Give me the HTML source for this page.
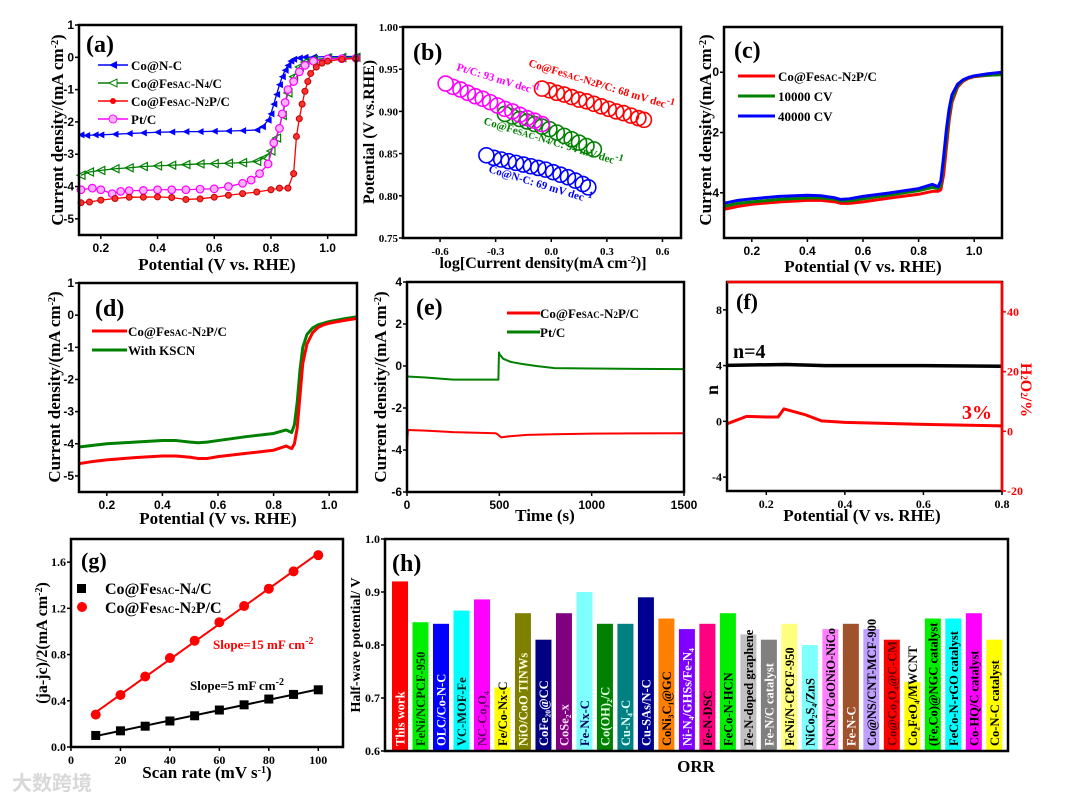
<!DOCTYPE html>
<html><head><meta charset="utf-8">
<style>
html,body{margin:0;padding:0;background:#fff;}
svg{display:block;}
text{font-family:"Liberation Serif","Noto Serif CJK SC",serif;font-weight:bold;}
.sans{font-family:"Liberation Sans",sans-serif;}
</style></head>
<body>
<svg id="fig" width="1080" height="803" viewBox="0 0 1080 803" xmlns="http://www.w3.org/2000/svg">
<rect width="1080" height="803" fill="#fff"/>
</svg>
<script>
// ---------- data ----------
// (a) LSV
const aBlueX=[0.13,0.15,0.18,0.2,0.25,0.3,0.35,0.4,0.45,0.5,0.55,0.6,0.65,0.7,0.75,0.77,0.79,0.8,0.81,0.82,0.83,0.84,0.85,0.86,0.87,0.88,0.9,0.92,0.95,1.0,1.05,1.1];
const aBlueY=[-2.4,-2.42,-2.4,-2.4,-2.38,-2.36,-2.34,-2.32,-2.31,-2.3,-2.3,-2.29,-2.28,-2.27,-2.25,-2.15,-1.95,-1.75,-1.45,-1.15,-0.85,-0.6,-0.4,-0.25,-0.12,-0.06,-0.02,0,0.01,0.02,0.02,0.03];
const aGreenX=[0.13,0.16,0.2,0.25,0.3,0.35,0.4,0.45,0.5,0.55,0.6,0.65,0.7,0.75,0.78,0.8,0.82,0.84,0.86,0.88,0.9,0.92,0.95,1.0,1.05,1.1];
const aGreenY=[-3.65,-3.55,-3.5,-3.45,-3.42,-3.38,-3.36,-3.34,-3.32,-3.3,-3.29,-3.28,-3.26,-3.22,-3.1,-2.9,-2.5,-1.8,-1.1,-0.6,-0.3,-0.15,-0.07,-0.03,-0.01,0];
const aRedX=[0.13,0.16,0.2,0.25,0.3,0.35,0.4,0.45,0.5,0.55,0.6,0.65,0.7,0.75,0.8,0.83,0.86,0.88,0.89,0.9,0.91,0.92,0.93,0.94,0.96,0.98,1.0,1.05,1.1];
const aRedY=[-4.5,-4.48,-4.42,-4.37,-4.33,-4.33,-4.32,-4.34,-4.4,-4.38,-4.33,-4.27,-4.22,-4.17,-4.1,-4.05,-4.05,-3.6,-2.45,-1.9,-1.45,-1.05,-0.75,-0.5,-0.3,-0.18,-0.12,-0.06,-0.04];
const aPtX=[0.13,0.17,0.2,0.24,0.27,0.3,0.35,0.4,0.45,0.5,0.55,0.6,0.65,0.7,0.73,0.76,0.79,0.81,0.83,0.84,0.85,0.86,0.88,0.9,0.92,0.95,1.0,1.05,1.1];
const aPtY=[-4.1,-4.05,-4.1,-4.22,-4.15,-4.13,-4.12,-4.1,-4.1,-4.1,-4.08,-4.07,-4.0,-3.9,-3.8,-3.6,-3.3,-2.65,-2.2,-1.75,-1.4,-1.0,-0.75,-0.45,-0.25,-0.12,-0.05,-0.04,-0.03];
const aXTicks=[0.2,0.4,0.6,0.8,1.0];
const aYTicks=[1,0,-1,-2,-3,-4,-5];
// (b) Tafel
const bPtX=[-0.57,-0.53,-0.49,-0.45,-0.41,-0.37,-0.33,-0.29,-0.25,-0.21,-0.17,-0.13,-0.09,-0.05];
const bPtY=[0.933,0.929,0.926,0.922,0.918,0.915,0.911,0.907,0.903,0.9,0.896,0.892,0.889,0.885];
const bGreenX=[-0.25,-0.21,-0.17,-0.13,-0.09,-0.05,-0.01,0.03,0.07,0.11,0.15,0.19,0.23];
const bGreenY=[0.897,0.894,0.891,0.888,0.885,0.882,0.879,0.875,0.871,0.867,0.863,0.859,0.855];
const bBlueX=[-0.35,-0.31,-0.27,-0.23,-0.19,-0.15,-0.11,-0.07,-0.03,0.01,0.05,0.09,0.13,0.17,0.2];
const bBlueY=[0.848,0.845,0.843,0.841,0.839,0.837,0.835,0.833,0.831,0.828,0.825,0.822,0.818,0.814,0.81];
const bRedX=[-0.05,-0.01,0.03,0.07,0.11,0.15,0.19,0.23,0.27,0.31,0.35,0.39,0.43,0.47,0.5];
const bRedY=[0.927,0.925,0.922,0.92,0.917,0.914,0.912,0.909,0.906,0.903,0.9,0.898,0.895,0.892,0.89];
const bXTicks=[-0.6,-0.3,0.0,0.3,0.6];
const bYTicks=[1.00,0.95,0.90,0.85,0.80,0.75];
// (c) stability
const cX=[0.1,0.15,0.2,0.3,0.4,0.45,0.5,0.52,0.55,0.6,0.7,0.8,0.85,0.87,0.88,0.89,0.9,0.91,0.92,0.94,0.96,0.98,1.0,1.05,1.1];
const cRed=[-4.55,-4.45,-4.38,-4.3,-4.25,-4.25,-4.3,-4.35,-4.35,-4.3,-4.17,-4.05,-3.95,-3.95,-3.9,-3.4,-2.5,-1.6,-1.0,-0.5,-0.3,-0.2,-0.15,-0.1,-0.07];
const cGreen=[-4.45,-4.35,-4.3,-4.22,-4.17,-4.17,-4.22,-4.27,-4.27,-4.2,-4.07,-3.93,-3.82,-3.86,-3.75,-3.0,-2.2,-1.4,-0.9,-0.45,-0.27,-0.18,-0.13,-0.1,-0.08];
const cBlue=[-4.35,-4.25,-4.2,-4.12,-4.08,-4.1,-4.17,-4.22,-4.2,-4.12,-4.0,-3.86,-3.72,-3.8,-3.6,-2.8,-1.9,-1.2,-0.75,-0.4,-0.25,-0.17,-0.12,-0.05,0.0];
const cXTicks=[0.2,0.4,0.6,0.8,1.0];
const cYTicks=[0,-2,-4];
// (d) KSCN
const dX=[0.1,0.15,0.2,0.3,0.4,0.45,0.5,0.53,0.56,0.6,0.7,0.8,0.845,0.865,0.875,0.885,0.895,0.905,0.92,0.94,0.96,0.98,1.0,1.05,1.1];
const dGreen=[-4.1,-4.05,-4.0,-3.95,-3.9,-3.9,-3.95,-3.97,-3.95,-3.9,-3.78,-3.68,-3.57,-3.65,-3.4,-2.7,-1.7,-1.0,-0.6,-0.4,-0.3,-0.25,-0.2,-0.12,-0.05];
const dRed=[-4.62,-4.55,-4.5,-4.43,-4.38,-4.38,-4.42,-4.46,-4.46,-4.4,-4.3,-4.2,-4.07,-4.15,-4.0,-3.5,-2.5,-1.5,-0.9,-0.55,-0.38,-0.3,-0.25,-0.17,-0.1];
const dXTicks=[0.2,0.4,0.6,0.8,1.0];
const dYTicks=[1,0,-1,-2,-3,-4,-5];
// (e) i-t
const eGreenX=[0,100,250,400,495,498,502,520,560,620,700,800,1000,1500];
const eGreenY=[-0.5,-0.55,-0.65,-0.65,-0.65,0.65,0.55,0.35,0.2,0.1,0.0,-0.1,-0.12,-0.15];
const eRedX=[0,2,5,100,250,480,490,510,550,650,800,1000,1500];
const eRedY=[-3.9,-3.5,-3.05,-3.08,-3.15,-3.2,-3.25,-3.4,-3.35,-3.28,-3.25,-3.22,-3.2];
const eXTicks=[0,500,1000,1500];
const eYTicks=[4,2,0,-2,-4,-6];
// (f) RRDE
const fNX=[0.1,0.25,0.35,0.6,0.8];
const fNY=[4.02,4.08,4.0,4.0,3.95];
const fHX=[0.1,0.15,0.2,0.23,0.245,0.3,0.34,0.4,0.6,0.8];
const fHY=[2.5,5,4.8,4.8,7.5,5.5,3.5,3,2.3,1.8];
const fXTicks=[0.2,0.4,0.6,0.8];
const fYTicks=[8,4,0,-4];
const fRTicks=[40,20,0,-20];
// (g) Cdl
const gX=[10,20,30,40,50,60,70,80,90,100];
const gBlack=[0.1,0.14,0.18,0.225,0.27,0.32,0.365,0.415,0.455,0.495];
const gRed=[0.28,0.45,0.61,0.77,0.92,1.08,1.22,1.37,1.52,1.66];
const gXTicks=[0,20,40,60,80,100];
const gYTicks=[0.0,0.4,0.8,1.2,1.6];
// (h) comparison
const hLabels=["This work","FeNi/NCPCF-950","OLC/Co-N-C","VC-MOF-Fe","NC-Co₃O₄","Fe/Co-Nx-C","NiO/CoO TINWs","CoFe₂₀@CC","CoSe₂-x","Fe-Nx-C","Co(OH)₂/C","Cu-N₄-C","Cu-SAs/N-C","CoNi₃C₁@GC","Ni-N₄/GHSs/Fe-N₄","Fe-N-DSC","FeCo-N-HCN","Fe-N-doped graphene","Fe-N/C catalyst","FeNi/N-CPCF-950","NiCo₂S₄/ZnS","NCNT/CoONiO-NiCo","Fe-N-C","Co@NS/CNT-MCF-900","Co@Co₃O₄@C-CM","Co₂FeO₄/MWCNT","(Fe,Co)@NGC catalyst","FeCo-N-rGO catalyst","Co-HQ/C catalyst","Co-N-C catalyst"];
const hValues=[0.92,0.843,0.84,0.865,0.886,0.72,0.86,0.81,0.86,0.90,0.84,0.84,0.89,0.85,0.83,0.84,0.86,0.82,0.81,0.84,0.80,0.83,0.84,0.83,0.81,0.73,0.85,0.85,0.86,0.81];
const hColors=["#ff0000","#00ee00","#0000ff","#00ffff","#ff00ff","#ffff00","#808000","#000080","#800080","#80ffff","#008000","#008080","#000090","#ff8000","#8000ff","#ff0080","#00ee00","#c0c0c0","#808080","#ffff80","#80ffff","#ff80ff","#a0522d","#c0a0ff","#ff0000","#ffff00","#00ee00","#00ffff","#ff00ff","#ffff00"];
const hText=["#fff","#003000","#fff","#002020","#600060","#000","#ffffe0","#fff","#ffe0ff","#000060","#e0ffe0","#e0ffff","#fff","#000","#fff","#000","#000","#000","#fff","#000","#000","#000","#fff","#000","#600000","#000","#000","#000","#000","#000"];
const hYTicks=[0.6,0.7,0.8,0.9,1.0];

// ---------- helpers ----------
const NS="http://www.w3.org/2000/svg";
const svg=document.getElementById('fig');
function mk(tag,attrs,parent){const e=document.createElementNS(NS,tag);for(const k in attrs)e.setAttribute(k,attrs[k]);(parent||svg).appendChild(e);return e;}
function panel(name,x0,x1,y0,y1,xmin,xmax,ymin,ymax){
  const g=mk('g',{});
  
  
  return {g,x0,x1,y0,y1,X:v=>x0+(v-xmin)/(xmax-xmin)*(x1-x0),Y:v=>y1-(v-ymin)/(ymax-ymin)*(y1-y0)};
}
function frame(P,color){
  const r=mk('rect',{x:P.x0,y:P.y0,width:P.x1-P.x0,height:P.y1-P.y0,fill:'none',stroke:color||'#000','stroke-width':2.5},P.g);
  
  
}
function ticks(P,xt,yt,cls,xd,yd,fs){
  fs=fs||12;
  for(const v of xt){
    const x=P.X(v);
    const t=mk('line',{x1:x,x2:x,y1:P.y1,y2:P.y1+4,stroke:'#000','stroke-width':1.5},P.g);
    
    
    const l=mk('text',{x:x,y:P.y1+17,'text-anchor':'middle','font-size':fs,class:cls},P.g);
    l.textContent=v.toFixed(xd);
    
    
  }
  for(const v of yt){
    const y=P.Y(v);
    const t=mk('line',{x1:P.x0-4,x2:P.x0,y1:y,y2:y,stroke:'#000','stroke-width':1.5},P.g);
    
    
    const l=mk('text',{x:P.x0-5,y:y+4,'text-anchor':'end','font-size':fs,class:cls},P.g);
    l.textContent=v.toFixed(yd);
    
    
  }
}
function line(P,xs,ys,color,w,name,Yf){
  const Y=Yf||P.Y;
  const p=mk('polyline',{points:xs.map((x,i)=>P.X(x)+','+Y(ys[i])).join(' '),fill:'none',stroke:color,'stroke-width':w,'stroke-linejoin':'round'},P.g);
  
  
  return p;
}
function txt(parent,x,y,html,size,fill,extra){
  const t=mk('text',Object.assign({x:x,y:y,'font-size':size,fill:fill||'#000'},extra||{}),parent);
  t.innerHTML=html;
  return t;
}
function tri(cx,cy,s){return (cx-s)+','+cy+' '+(cx+s)+','+(cy-s)+' '+(cx+s)+','+(cy+s);}
const SUP='<tspan baseline-shift="super" font-size="10">';
const SAC='<tspan font-size="9">SAC</tspan>';
const sub=s=>'<tspan font-size="9">'+s+'</tspan>';

// ---------- (a) ----------
{
const P=panel('panel-a-lsv',79,356,25,235,0.123,1.1,-5.5,1);
line(P,aBlueX,aBlueY,'#0000ff',1.3,'series-co-n-c');
aBlueX.forEach((x,i)=>{const m=mk('polygon',{points:tri(P.X(x),P.Y(aBlueY[i]),3.5),fill:'#0000ff'},P.g);

});
line(P,aGreenX,aGreenY,'#008000',1.3,'series-co-fesac-n4-c');
aGreenX.forEach((x,i)=>{const m=mk('polygon',{points:tri(P.X(x),P.Y(aGreenY[i]),4),fill:'none',stroke:'#008000','stroke-width':1.2},P.g);

});
line(P,aPtX,aPtY,'#ff00ff',1.3,'series-pt-c');
aPtX.forEach((x,i)=>{const m=mk('circle',{cx:P.X(x),cy:P.Y(aPtY[i]),r:3.8,fill:'#ffb0ff',stroke:'#ff00ff','stroke-width':1.2},P.g);

});
line(P,aRedX,aRedY,'#ff0000',1.3,'series-co-fesac-n2p-c');
aRedX.forEach((x,i)=>{const m=mk('circle',{cx:P.X(x),cy:P.Y(aRedY[i]),r:3,fill:'#ff3030',stroke:'#c00000','stroke-width':1},P.g);

});
frame(P);
ticks(P,aXTicks,aYTicks,'sans',1,0);
const lt=txt(P.g,86,52,'(a)',24);


const legA=[['#0000ff','Co@N-C','tri'],['#008000','Co@Fe'+SAC+'-N'+sub('4')+'/C','otri'],['#ff0000','Co@Fe'+SAC+'-N'+sub('2')+'P/C','circ'],['#ff00ff','Pt/C','ocirc']];
legA.forEach((L,i)=>{const y=65+i*18;
const g=mk('g',{},P.g);


mk('line',{x1:98,x2:128,y1:y,y2:y,stroke:L[0],'stroke-width':1.5},g);
if(L[2]=='tri')mk('polygon',{points:tri(113,y,4),fill:L[0]},g);
if(L[2]=='otri')mk('polygon',{points:tri(113,y,4),fill:'#fff',stroke:L[0]},g);
if(L[2]=='circ')mk('circle',{cx:113,cy:y,r:3,fill:L[0]},g);
if(L[2]=='ocirc')mk('circle',{cx:113,cy:y,r:4,fill:'#ffb0ff',stroke:L[0]},g);
txt(g,131,y+5,L[1],13);});
const xl=txt(P.g,217,270,'Potential (V vs. RHE)',17,'#000',{'text-anchor':'middle'});


const yl=txt(P.g,0,0,'Current density/(mA cm'+SUP+'-2</tspan>)',17,'#000',{'text-anchor':'middle',transform:'translate(63,130) rotate(-90)'});


}
// ---------- (b) ----------
{
const P=panel('panel-b-tafel',403,681,27,238,-0.8,0.7,0.75,1.0);
const S=[[bGreenX,bGreenY,'#008000','series-co-fesac-n4-c'],[bPtX,bPtY,'#ff00ff','series-pt-c'],[bBlueX,bBlueY,'#0000ff','series-co-n-c'],[bRedX,bRedY,'#ff0000','series-co-fesac-n2p-c']];
S.forEach(s=>{for(let i=s[0].length-1;i>=0;i--){const c=mk('circle',{cx:P.X(s[0][i]),cy:P.Y(s[1][i]),r:7.5,fill:i==0?'#fff':'none',stroke:s[2],'stroke-width':1.6},P.g);

}});
frame(P);
ticks(P,bXTicks,bYTicks,'',1,2,11);
const lt=txt(P.g,413,60,'(b)',24);


const an=[[456,70,'#ff00ff','Pt/C:  93 mV dec'+SUP+'-1</tspan>'],[528,66,'#ff0000','Co@Fe'+SAC+'-N'+sub('2')+'P/C: 68 mV dec'+SUP+'-1</tspan>'],[483,124,'#008000','Co@Fe'+SAC+'-N'+sub('4')+'/C:  94 mV dec'+SUP+'-1</tspan>'],[488,172,'#0000ff','Co@N-C: 69 mV dec'+SUP+'-1</tspan>']];
an.forEach(a=>{const t=txt(P.g,0,0,a[3],11,a[2],{transform:'translate('+a[0]+','+a[1]+') rotate(17)'});

});
const xl=txt(P.g,543,268,'log[Current density(mA cm'+SUP+'-2</tspan>)]',16,'#000',{'text-anchor':'middle'});


const yl=txt(P.g,0,0,'Potential (V vs.RHE)',16,'#000',{'text-anchor':'middle',transform:'translate(374,132) rotate(-90)'});


}
// ---------- (c) ----------
{
const P=panel('panel-c-stability',724,1002,27,238,0.1,1.1,-5.5,1.5);
line(P,cX,cRed,'#ff0000',3,'series-initial');
line(P,cX,cGreen,'#008000',3,'series-10000-cv');
line(P,cX,cBlue,'#0000ff',3,'series-40000-cv');
frame(P);
ticks(P,cXTicks,cYTicks,'sans',1,0);
const lt=txt(P.g,734,58,'(c)',24);


const leg=[['#ff0000','Co@Fe'+SAC+'-N'+sub('2')+'P/C'],['#008000','10000 CV'],['#0000ff','40000 CV']];
leg.forEach((L,i)=>{const y=76+i*20;const g=mk('g',{},P.g);


mk('line',{x1:738,x2:775,y1:y,y2:y,stroke:L[0],'stroke-width':3},g);txt(g,778,y+5,L[1],13);});
const xl=txt(P.g,863,272,'Potential (V vs. RHE)',17,'#000',{'text-anchor':'middle'});


const yl=txt(P.g,0,0,'Current density/(mA cm'+SUP+'-2</tspan>)',17,'#000',{'text-anchor':'middle',transform:'translate(711,130) rotate(-90)'});


}
// ---------- (d) ----------
{
const P=panel('panel-d-kscn',79,357,283,492,0.1,1.1,-5.5,1);
line(P,dX,dGreen,'#008000',3,'series-with-kscn');
line(P,dX,dRed,'#ff0000',3,'series-co-fesac-n2p-c');
frame(P);
ticks(P,dXTicks,dYTicks,'sans',1,0);
const lt=txt(P.g,95,316,'(d)',24);


const leg=[['#ff0000','Co@Fe'+SAC+'-N'+sub('2')+'P/C'],['#008000','With KSCN']];
leg.forEach((L,i)=>{const y=331+i*19;const g=mk('g',{},P.g);


mk('line',{x1:92,x2:127,y1:y,y2:y,stroke:L[0],'stroke-width':3},g);txt(g,128,y+5,L[1],13);});
const xl=txt(P.g,218,524,'Potential (V vs. RHE)',17,'#000',{'text-anchor':'middle'});


const yl=txt(P.g,0,0,'Current density/(mA cm'+SUP+'-2</tspan>)',17,'#000',{'text-anchor':'middle',transform:'translate(60,387) rotate(-90)'});


}
// ---------- (e) ----------
{
const P=panel('panel-e-chrono',407,684,282,492,0,1500,-6,4);
line(P,eGreenX,eGreenY,'#008000',2,'series-pt-c');
line(P,eRedX,eRedY,'#ff0000',2,'series-co-fesac-n2p-c');
frame(P);
ticks(P,eXTicks,eYTicks,'sans',0,0);
const lt=txt(P.g,416,315,'(e)',24);


const leg=[['#ff0000','Co@Fe'+SAC+'-N'+sub('2')+'P/C'],['#008000','Pt/C']];
leg.forEach((L,i)=>{const y=313+i*19;const g=mk('g',{},P.g);


mk('line',{x1:507,x2:540,y1:y,y2:y,stroke:L[0],'stroke-width':3},g);txt(g,540,y+5,L[1],13);});
const xl=txt(P.g,545,521,'Time (s)',17,'#000',{'text-anchor':'middle'});


const yl=txt(P.g,0,0,'Current density/(mA cm'+SUP+'-2</tspan>)',17,'#000',{'text-anchor':'middle',transform:'translate(386,387) rotate(-90)'});


}
// ---------- (f) ----------
{
const P=panel('panel-f-rrde',727,1002,282,491,0.1,0.8,-5,10);
const YR=v=>491-(v+20)/70*209;
line(P,fNX,fNY,'#000',3.5,'series-electron-number');
line(P,fHX,fHY,'#ff0000',3,'series-h2o2-yield',YR);
frame(P);
const rr=mk('line',{x1:1002,x2:1002,y1:282,y2:491,stroke:'#ff0000','stroke-width':2.5},P.g);


const rt=mk('line',{x1:727,x2:1002,y1:282,y2:282,stroke:'#ff0000','stroke-width':2.5},P.g);


ticks(P,fXTicks,fYTicks,'',1,0);
fRTicks.forEach(v=>{const y=YR(v);
const t=mk('line',{x1:1002,x2:1006,y1:y,y2:y,stroke:'#ff0000','stroke-width':1.5},P.g);


const l=txt(P.g,1007,y+4,String(v),12,'#ff0000');

});
const lt=txt(P.g,736,309,'(f)',22);


const n4=txt(P.g,733,358,'n=4',20);


const p3=txt(P.g,962,419,'3%',20,'#ff0000');


const xl=txt(P.g,862,521,'Potential (V vs. RHE)',17,'#000',{'text-anchor':'middle'});


const yl=txt(P.g,0,0,'n',18,'#000',{'text-anchor':'middle',transform:'translate(718,390) rotate(-90)'});


const yr=txt(P.g,0,0,'H'+sub('2')+'O'+sub('2')+'/%',16,'#ff0000',{'text-anchor':'middle',transform:'translate(1021,390) rotate(90)'});


}
// ---------- (g) ----------
{
const P=panel('panel-g-cdl',71,343,539,747,0,110,0,1.8);
const fit=(ys)=>{const n=gX.length;const mx=gX.reduce((a,b)=>a+b)/n,my=ys.reduce((a,b)=>a+b)/n;let sxy=0,sxx=0;gX.forEach((x,i)=>{sxy+=(x-mx)*(ys[i]-my);sxx+=(x-mx)*(x-mx);});const k=sxy/sxx;return [my+k*(gX[0]-mx),my+k*(gX[n-1]-mx)];};
const fb=fit(gBlack),fr=fit(gRed);
line(P,[gX[0],gX[gX.length-1]],fb,'#000',2,'fit-line-n4');
line(P,[gX[0],gX[gX.length-1]],fr,'#ff0000',2,'fit-line-n2p');
gX.forEach((x,i)=>{const s=mk('rect',{x:P.X(x)-4.5,y:P.Y(gBlack[i])-4.5,width:9,height:9,fill:'#000'},P.g);


const c=mk('circle',{cx:P.X(x),cy:P.Y(gRed[i]),r:5,fill:'#ff0000'},P.g);

});
frame(P);
ticks(P,gXTicks,gYTicks,'',0,1);
const lt=txt(P.g,81,568,'(g)',22);


const g1=mk('g',{},P.g);


mk('rect',{x:77,y:584,width:9,height:9,fill:'#000'},g1);txt(g1,105,594,'Co@Fe'+SAC+'-N'+sub('4')+'/C',16);
const g2=mk('g',{},P.g);


mk('circle',{cx:82,cy:607,r:5,fill:'#ff0000'},g2);txt(g2,105,613,'Co@Fe'+SAC+'-N'+sub('2')+'P/C',16);
const s1=txt(P.g,213,649,'Slope=15 mF cm'+SUP+'-2</tspan>',13,'#ff0000');


const s2=txt(P.g,190,690,'Slope=5 mF cm'+SUP+'-2</tspan>',13,'#000');


const xl=txt(P.g,207,778,'Scan rate (mV s'+SUP+'-1</tspan>)',17,'#000',{'text-anchor':'middle'});


const yl=txt(P.g,0,0,'(ja-jc)/2(mA cm'+SUP+'-2</tspan>)',16,'#000',{'text-anchor':'middle',transform:'translate(47,643) rotate(-90)'});


const wm=txt(svg,12,790,'大数跨境',20,'#d8d8d8',{style:'font-family:"Noto Sans CJK SC",sans-serif'});


}
// ---------- (h) ----------
{
const P=panel('panel-h-comparison',385,1008,539,751,0,30,0.6,1.0);
const step=(1008-385)/30.4;
hValues.forEach((v,i)=>{const cx=400+i*step;
const b=mk('rect',{x:cx-8,y:P.Y(v),width:16,height:751-P.Y(v),fill:hColors[i]},P.g);


const t=mk('text',{transform:'translate('+(cx+4.5)+',746) rotate(-90)','font-size':12.5,fill:hText[i]},P.g);
t.textContent=hLabels[i];

});
frame(P);
ticks(P,[],hYTicks,'',0,1);
const lt=txt(P.g,392,571,'(h)',24);


const xl=txt(P.g,696,772,'ORR',17,'#000',{'text-anchor':'middle'});


const yl=txt(P.g,0,0,'Half-wave potential/ V',14,'#000',{'text-anchor':'middle',transform:'translate(360,645) rotate(-90)'});


}
</script>
</body></html>
